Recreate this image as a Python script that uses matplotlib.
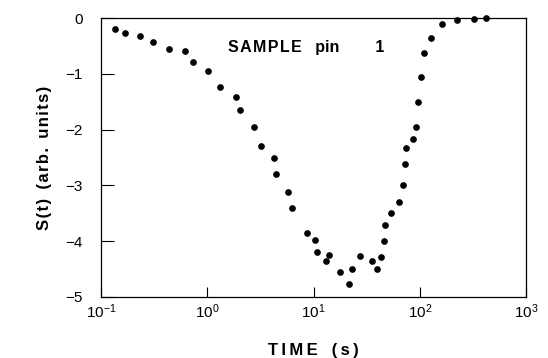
import matplotlib.pyplot as plt
from matplotlib.ticker import NullLocator, FixedLocator

# measured relaxation signal, time in seconds
time_s = [0.134, 0.170, 0.232, 0.310, 0.435, 0.611, 0.741, 1.02, 1.32, 1.85,
          2.02, 2.76, 3.21, 4.22, 4.48, 5.77, 6.24, 8.63, 10.3, 10.7,
          13.0, 14.1, 17.6, 21.4, 22.9, 27.6, 35.3, 39.9, 43.3, 45.7,
          47.2, 53.7, 63.3, 70.1, 72.1, 73.6, 85.7, 92.9, 97.0, 102,
          109, 127, 163, 224, 321, 421]
signal = [-0.20, -0.26, -0.32, -0.43, -0.56, -0.59, -0.79, -0.95, -1.24, -1.42,
          -1.65, -1.95, -2.29, -2.50, -2.79, -3.12, -3.41, -3.85, -3.98, -4.20,
          -4.36, -4.25, -4.55, -4.76, -4.50, -4.27, -4.35, -4.50, -4.28, -4.00,
          -3.71, -3.50, -3.30, -2.99, -2.61, -2.33, -2.16, -1.95, -1.51, -1.05,
          -0.63, -0.35, -0.11, -0.04, -0.02, 0.0]

x_ticks = [0.1, 1, 10, 100, 1000]
x_labels = ["$10^{-1}$", "$10^{0}$", "$10^{1}$", "$10^{2}$", "$10^{3}$"]
y_ticks = [0, -1, -2, -3, -4, -5]
y_labels = ["0", "\u22121", "\u22122", "\u22123", "\u22124", "\u22125"]


def spaced(word, gap="\u2009"):
    # widen letter spacing with thin spaces
    return gap.join(word)


plt.rcParams['font.family'] = ['Liberation Sans', 'DejaVu Sans']
plt.rcParams['mathtext.fontset'] = 'custom'
plt.rcParams['mathtext.rm'] = 'Liberation Sans'
plt.rcParams['mathtext.it'] = 'Liberation Sans'

fig = plt.figure(figsize=(5.48, 3.58), dpi=100)
ax = fig.add_axes([0.1843, 0.1704, 0.7756, 0.7793])

ax.plot(time_s, signal, 'o', color='black', markersize=3.8, clip_on=False)

ax.set_xscale('log')
ax.set_xlim(0.1, 1000)
ax.set_ylim(-5, 0)
ax.xaxis.set_major_locator(FixedLocator(x_ticks))
ax.set_xticklabels(x_labels)
ax.xaxis.set_minor_locator(NullLocator())
ax.set_yticks(y_ticks)
ax.set_yticklabels(y_labels)

ax.tick_params(axis='x', direction='in', length=7, width=0.8, pad=4, labelsize=11)
ax.tick_params(axis='y', direction='in', length=9, width=0.8, pad=13, labelsize=11)
for spine in ax.spines.values():
    spine.set_linewidth(0.9)

ax.set_xlabel(spaced("TIME") + "   " + spaced("(s)"), fontsize=12,
              fontweight='bold', labelpad=16)
ax.set_ylabel(spaced("S(t)", "\u200a") + "  " + spaced("(arb.", "\u200a") + "  "
              + spaced("units)", "\u200a"),
              fontsize=12, fontweight='bold', labelpad=10)

ax.text(0.299, 0.895, spaced("SAMPLE", "\u200a") + "   pin        1",
        transform=ax.transAxes, fontsize=11.5, fontweight='bold',
        va='center', ha='left')

fig.savefig("out.png", dpi=100)
